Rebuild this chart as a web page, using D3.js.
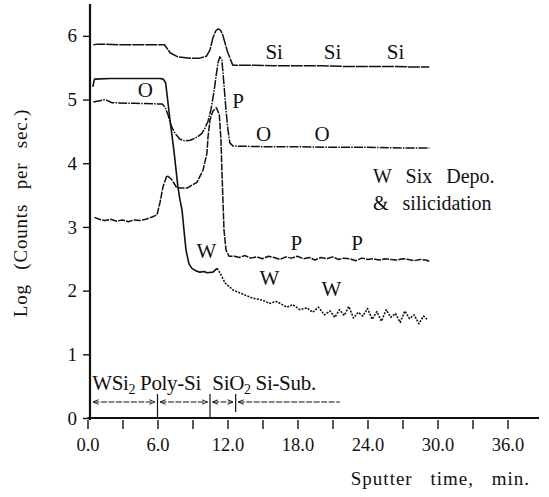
<!DOCTYPE html>
<html>
<head>
<meta charset="utf-8">
<script src="https://cdn.jsdelivr.net/npm/d3@7/dist/d3.min.js"></script>
<style>
  body { margin: 0; background: #fff; }
  text { font-family: "Liberation Serif", "DejaVu Serif", serif; fill: #111; }
</style>
</head>
<body>
<div id="chart"></div>
<script>
// profiles: [sputter time (min), log counts]
var siProfile = [[0.5,5.86],[0.9,5.87],[3,5.86],[5,5.86],[6.6,5.86],[7.1,5.73],[7.75,5.67],[8.8,5.65],[9.6,5.65],
  [10.2,5.68],[10.5,5.78],[10.75,5.97],[11.0,6.08],[11.2,6.11],[11.4,6.09],[11.6,6.01],[12.0,5.75],[12.45,5.54],
  [14,5.54],[16,5.53],[18,5.53],[20,5.53],[22,5.52],[24,5.52],[26,5.52],[28,5.51],[29.3,5.51]];

var oProfile = [[0.5,4.96],[1.5,5.0],[2.1,4.95],[4,4.94],[6.4,4.93],[6.65,4.88],[6.9,4.76],[7.15,4.6],[7.5,4.47],
  [7.9,4.38],[8.35,4.35],[8.8,4.36],[9.4,4.41],[9.8,4.47],[10.07,4.55],[10.33,4.66],[10.58,4.84],[10.84,5.12],
  [11.0,5.34],[11.2,5.59],[11.35,5.67],[11.52,5.62],[11.7,5.23],[11.87,4.84],[12.04,4.52],[12.2,4.32],[12.47,4.27],
  [15,4.26],[18,4.26],[21,4.25],[24,4.25],[27,4.24],[29.3,4.24]];

var pProfile = [[0.6,3.15],[1.0,3.12],[1.5,3.1],[2.0,3.12],[2.5,3.09],[3.0,3.11],[3.5,3.08],[4.0,3.11],[4.5,3.1],
  [5.0,3.12],[5.6,3.16],[5.96,3.19],[6.21,3.38],[6.47,3.63],[6.81,3.81],[7.24,3.74],[7.67,3.61],[8.53,3.61],
  [9.38,3.7],[9.9,3.89],[10.24,4.16],[10.33,4.41],[10.5,4.68],[10.75,4.82],[11.05,4.87],[11.3,4.76],[11.44,4.36],
  [11.52,3.89],[11.61,3.42],[11.7,2.95],[11.87,2.64],[12.13,2.54],[12.6,2.54],[13.0,2.52],[13.5,2.55],[14.0,2.51],
  [14.5,2.53],[15.0,2.5],[15.5,2.54],[16.0,2.52],[16.5,2.49],[17.0,2.53],[17.5,2.51],[18.0,2.54],[18.5,2.5],
  [19.0,2.52],[19.5,2.48],[20.0,2.52],[20.5,2.5],[21.0,2.53],[21.5,2.49],[22.0,2.51],[22.5,2.5],[23.0,2.47],
  [23.5,2.51],[24.0,2.49],[24.5,2.5],[25.0,2.48],[25.5,2.5],[26.0,2.49],[26.5,2.48],[27.0,2.5],[27.5,2.49],
  [28.0,2.47],[28.5,2.49],[29.0,2.48],[29.3,2.46]];

var wProfile = [[0.45,5.2],[0.6,5.32],[2,5.33],[4,5.33],[6.2,5.33],[6.5,5.32],[6.7,5.26],[7.07,4.68],[7.4,4.21],
  [7.75,3.63],[7.93,3.42],[8.1,3.27],[8.27,2.95],[8.44,2.64],[8.53,2.56],[8.7,2.42],[8.95,2.35],[9.3,2.31],
  [9.64,2.29],[10.0,2.3],[10.24,2.28],[10.75,2.29],[11.1,2.35]];

var wTail = [[11.1,2.35],[11.35,2.28],[11.8,2.12],[12.47,2.01],[13.5,1.93],[14.2,1.88],[15.0,1.85],[15.6,1.8],
  [16.2,1.83],[17.1,1.74],[17.6,1.78],[18.2,1.7],[18.8,1.73],[19.3,1.66],[19.8,1.74],[20.3,1.62],[20.8,1.68],
  [21.2,1.58],[21.6,1.7],[22.0,1.61],[22.4,1.75],[22.8,1.57],[23.2,1.66],[23.6,1.6],[24.0,1.72],[24.4,1.55],
  [24.8,1.67],[25.2,1.52],[25.6,1.7],[26.0,1.58],[26.4,1.64],[26.8,1.5],[27.2,1.68],[27.6,1.56],[28.0,1.62],
  [28.4,1.48],[28.8,1.6],[29.1,1.55]];

var yTicks = [0, 1, 2, 3, 4, 5, 6];
var xTicks = [0, 3, 6, 9, 12, 15, 18, 21, 24, 27, 30, 33, 36];

// layers along the bottom
var layerNames = ["WSi", "Poly-Si", "SiO", "Si-Sub."];
var layerBounds = [0.25, 6.0, 10.5, 12.7, 21.9];

// element labels [text, time, log]
var elementLabels = [["Si",16.0,5.75],["Si",21.0,5.75],["Si",26.4,5.75],["O",4.95,5.15],["P",12.9,4.99],
  ["O",15.1,4.47],["O",20.1,4.47],["P",17.9,2.76],["P",23.1,2.76],["W",10.2,2.63],["W",15.6,2.2],["W",20.9,2.03]];

var width = 549, height = 497;
var svg = d3.select("#chart").append("svg")
    .attr("width", width)
    .attr("height", height);

var x = d3.scaleLinear().domain([0, 38.7]).range([87.5, 539]);
var y = d3.scaleLinear().domain([0, 6.5]).range([418, 4]);

var line = d3.line()
    .x(function(d) { return x(d[0]); })
    .y(function(d) { return y(d[1]); })
    .curve(d3.curveLinear);

function drawProfile(data, dash, w) {
  svg.append("path")
    .datum(data)
    .attr("d", line)
    .attr("fill", "none")
    .attr("stroke", "#111")
    .attr("stroke-width", w)
    .attr("stroke-linejoin", "round")
    .attr("stroke-dasharray", dash);
}

drawProfile(siProfile, "12,1", 1.5);
drawProfile(oProfile, "9,1.2,1.5,1.2", 1.5);
drawProfile(pProfile, "7,1.2", 1.5);
drawProfile(wProfile, null, 1.6);
drawProfile(wTail, "2,1.3", 1.6);

// axes
var xAxis = svg.append("g")
    .attr("transform", "translate(0,420)")
    .call(d3.axisBottom(x).tickValues(xTicks).tickSize(9).tickPadding(9)
      .tickFormat(function(d) { return d % 6 === 0 ? d.toFixed(1) : ""; }));
xAxis.select(".domain").remove();
xAxis.selectAll("line").attr("stroke", "#111").attr("stroke-width", 1.4);
xAxis.selectAll("text").style("font-family", "Liberation Serif").style("font-size", "18.5px").attr("fill", "#111");

svg.append("line")
    .attr("x1", x(0)).attr("x2", x(38.7))
    .attr("y1", y(0)).attr("y2", y(0))
    .attr("stroke", "#111").attr("stroke-width", 1.8);

var yAxis = svg.append("g")
    .attr("transform", "translate(90,0)")
    .call(d3.axisLeft(y).tickValues(yTicks).tickSize(7).tickPadding(6).tickFormat(d3.format("d")));
yAxis.select(".domain").remove();
yAxis.selectAll("line").attr("stroke", "#111").attr("stroke-width", 1.4);
yAxis.selectAll("text").style("font-family", "Liberation Serif").style("font-size", "19px").attr("fill", "#111");

svg.append("line")
    .attr("x1", 90).attr("x2", 90)
    .attr("y1", y(6.5)).attr("y2", y(0) + 2)
    .attr("stroke", "#111").attr("stroke-width", 2.2);

// axis titles
svg.append("text")
    .attr("transform", "translate(27," + 213 + ") rotate(-90)")
    .attr("text-anchor", "middle")
    .style("font-size", "19px")
    .style("letter-spacing", "0.8px")
    .style("word-spacing", "9px")
    .text("Log (Counts per sec.)");

svg.append("text")
    .attr("x", 530).attr("y", 485)
    .attr("text-anchor", "end")
    .style("font-size", "19px")
    .style("letter-spacing", "1px")
    .style("word-spacing", "12px")
    .text("Sputter time, min.");

// element labels
svg.selectAll(".elab")
  .data(elementLabels)
  .enter().append("text")
    .attr("class", "elab")
    .attr("x", function(d) { return x(d[1]); })
    .attr("y", function(d) { return y(d[2]); })
    .attr("text-anchor", "middle")
    .attr("dy", "0.35em")
    .style("font-size", "21px")
    .text(function(d) { return d[0]; });

svg.append("text")
    .attr("x", 373).attr("y", 183)
    .style("font-size", "20px")
    .style("word-spacing", "9px")
    .text("W Six Depo.");
svg.append("text")
    .attr("x", 373).attr("y", 210)
    .style("font-size", "20px")
    .style("word-spacing", "9px")
    .text("& silicidation");

// layer labels along the bottom
var layerTextX = [0.4, 4.5, 10.7, 14.4];
var layerSub = ["2", "", "2", ""];
var lt = svg.selectAll(".layer")
  .data(layerNames)
  .enter().append("text")
    .attr("class", "layer")
    .attr("x", function(d, i) { return x(layerTextX[i]); })
    .attr("y", 390)
    .style("font-size", "21px")
    .style("letter-spacing", "-0.3px");
lt.append("tspan").text(function(d) { return d; });
lt.append("tspan")
    .attr("dy", 4)
    .style("font-size", "14px")
    .text(function(d, i) { return layerSub[i]; });

// arrows between layer bounds
svg.append("defs").append("marker")
    .attr("id", "ah")
    .attr("viewBox", "0 0 8 8")
    .attr("refX", 7).attr("refY", 4)
    .attr("markerWidth", 6).attr("markerHeight", 6)
    .attr("orient", "auto-start-reverse")
  .append("path")
    .attr("d", "M0,1 L8,4 L0,7")
    .attr("fill", "none")
    .attr("stroke", "#111")
    .attr("stroke-width", 1.2);

var arrowY = 402;
for (var i = 0; i < layerNames.length; i++) {
  var a = x(layerBounds[i]) + 3, b = x(layerBounds[i + 1]) - 3;
  var seg = svg.append("line")
      .attr("x1", a).attr("x2", b)
      .attr("y1", arrowY).attr("y2", arrowY)
      .attr("stroke", "#111")
      .attr("stroke-width", 1)
      .attr("stroke-dasharray", "6,1.5")
      .attr("marker-start", "url(#ah)");
  if (i < layerNames.length - 1) seg.attr("marker-end", "url(#ah)");
}
svg.selectAll(".bound")
  .data(layerBounds.slice(0, 4))
  .enter().append("line")
    .attr("class", "bound")
    .attr("x1", function(d) { return x(d); })
    .attr("x2", function(d) { return x(d); })
    .attr("y1", function(d, i) { return i === 0 ? 397 : 394; })
    .attr("y2", function(d, i) { return i === 0 ? 407 : (i === 3 ? 412 : 418); })
    .attr("stroke", "#111")
    .attr("stroke-width", 1.2);
</script>
</body>
</html>
